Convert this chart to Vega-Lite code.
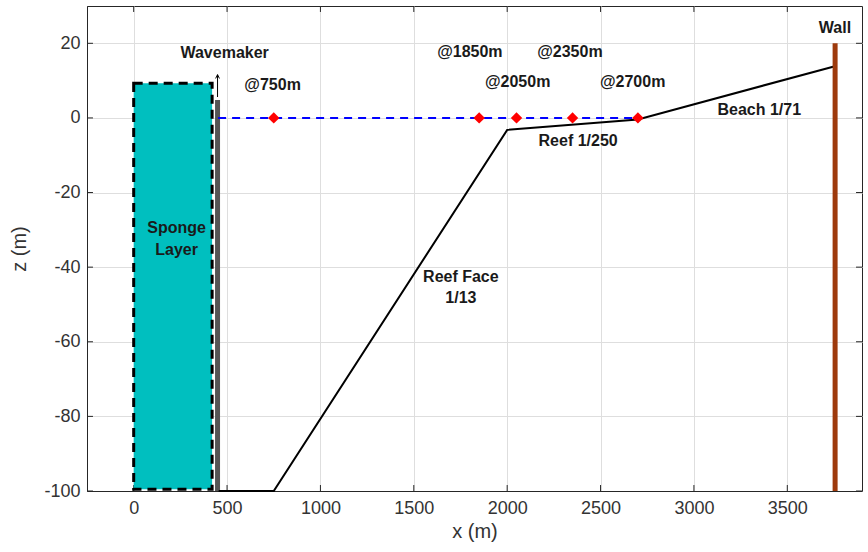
{
  "$schema": "https://vega.github.io/schema/vega-lite/v6.json",
  "width": 775,
  "height": 485,
  "autosize": {"type": "none"},
  "padding": {"left": 87, "top": 6, "right": 6, "bottom": 61},
  "config": {
    "view": {"stroke": "#262626", "strokeWidth": 1},
    "font": "Liberation Sans",
    "axis": {
      "labelFont": "Liberation Sans",
      "titleFont": "Liberation Sans",
      "labelColor": "#333333",
      "titleColor": "#333333",
      "labelFontSize": 18,
      "titleFontSize": 20,
      "titleFontWeight": "normal",
      "domainColor": "#262626",
      "tickColor": "#262626",
      "gridColor": "#dedede",
      "gridWidth": 1
    }
  },
  "datasets": {
    "xticks": [{"x": 0}, {"x": 500}, {"x": 1000}, {"x": 1500}, {"x": 2000}, {"x": 2500}, {"x": 3000}, {"x": 3500}],
    "zticks": [{"z": -100}, {"z": -80}, {"z": -60}, {"z": -40}, {"z": -20}, {"z": 0}, {"z": 20}]
  },
  "layer": [
    {
      "data": {"values": [{"x": 0, "z": 0}]},
      "mark": {"type": "point", "opacity": 0},
      "encoding": {
        "x": {"field": "x", "type": "quantitative", "scale": {"domain": [-250, 3900], "nice": false, "zero": false},
          "axis": {"orient": "bottom", "values": [0, 500, 1000, 1500, 2000, 2500, 3000, 3500], "labelExpr": "datum.value + ''", "title": "x (m)", "ticks": false, "labelPadding": 8, "titlePadding": 4, "grid": true, "labelFlush": false}},
        "y": {"field": "z", "type": "quantitative", "scale": {"domain": [-100, 30], "nice": false, "zero": false},
          "axis": {"orient": "left", "values": [-100, -80, -60, -40, -20, 0, 20], "labelExpr": "datum.value + ''", "title": "z (m)", "ticks": false, "labelPadding": 7, "titlePadding": 14, "grid": true, "labelFlush": false}}
      }
    },
    {
      "data": {"name": "xticks"},
      "mark": {"type": "rule", "color": "#262626", "strokeWidth": 1},
      "encoding": {
        "x": {"field": "x", "type": "quantitative"},
        "y": {"datum": -100, "type": "quantitative"},
        "y2": {"datum": -98.4}
      }
    },
    {
      "data": {"name": "xticks"},
      "mark": {"type": "rule", "color": "#262626", "strokeWidth": 1},
      "encoding": {
        "x": {"field": "x", "type": "quantitative"},
        "y": {"datum": 30, "type": "quantitative"},
        "y2": {"datum": 28.4}
      }
    },
    {
      "data": {"name": "zticks"},
      "mark": {"type": "rule", "color": "#262626", "strokeWidth": 1},
      "encoding": {
        "y": {"field": "z", "type": "quantitative"},
        "x": {"datum": -250, "type": "quantitative"},
        "x2": {"datum": -218}
      }
    },
    {
      "data": {"name": "zticks"},
      "mark": {"type": "rule", "color": "#262626", "strokeWidth": 1},
      "encoding": {
        "y": {"field": "z", "type": "quantitative"},
        "x": {"datum": 3900, "type": "quantitative"},
        "x2": {"datum": 3868}
      }
    },
    {
      "data": {"values": [{"x1": 0, "x2": 420, "z1": -99.5, "z2": 9.3}]},
      "mark": {"type": "rect", "fill": "#00BFBF", "stroke": "#000000", "strokeWidth": 3, "strokeDash": [9, 6]},
      "encoding": {
        "x": {"field": "x1", "type": "quantitative"},
        "x2": {"field": "x2"},
        "y": {"field": "z1", "type": "quantitative"},
        "y2": {"field": "z2"}
      }
    },
    {
      "data": {"values": [{"x": 449, "z1": -100, "z2": 4.8}]},
      "mark": {"type": "rule", "color": "#555555", "strokeWidth": 5},
      "encoding": {
        "x": {"field": "x", "type": "quantitative"},
        "y": {"field": "z1", "type": "quantitative"},
        "y2": {"field": "z2"}
      }
    },
    {
      "data": {"values": [{"x": 449, "z1": 5.6, "z2": 11.6}]},
      "mark": {"type": "rule", "color": "#000000", "strokeWidth": 1},
      "encoding": {
        "x": {"field": "x", "type": "quantitative"},
        "y": {"field": "z1", "type": "quantitative"},
        "y2": {"field": "z2"}
      }
    },
    {
      "data": {"values": [{"x": 449, "z": 11.6}]},
      "mark": {"type": "point", "shape": "M-0.6,1.2L0,0L0.6,1.2", "filled": false, "stroke": "#000000", "strokeWidth": 1, "size": 40, "opacity": 1},
      "encoding": {
        "x": {"field": "x", "type": "quantitative"},
        "y": {"field": "z", "type": "quantitative"}
      }
    },
    {
      "data": {"values": [{"x": 452, "z": 0}, {"x": 2700, "z": 0}]},
      "mark": {"type": "line", "color": "#0000FF", "strokeWidth": 2, "strokeDash": [8, 6]},
      "encoding": {
        "x": {"field": "x", "type": "quantitative"},
        "y": {"field": "z", "type": "quantitative"}
      }
    },
    {
      "data": {"values": [{"x": 455, "z": -100}, {"x": 750, "z": -100}, {"x": 2000, "z": -3.2}, {"x": 2700, "z": -0.4}, {"x": 3750, "z": 13.8}]},
      "mark": {"type": "line", "color": "#000000", "strokeWidth": 2},
      "encoding": {
        "x": {"field": "x", "type": "quantitative"},
        "y": {"field": "z", "type": "quantitative"}
      }
    },
    {
      "data": {"values": [{"x": 3756, "z1": -100, "z2": 20}]},
      "mark": {"type": "rule", "color": "#9E3A0C", "strokeWidth": 5},
      "encoding": {
        "x": {"field": "x", "type": "quantitative"},
        "y": {"field": "z1", "type": "quantitative"},
        "y2": {"field": "z2"}
      }
    },
    {
      "data": {"values": [{"x": 750, "z": 0}, {"x": 1850, "z": 0}, {"x": 2050, "z": 0}, {"x": 2350, "z": 0}, {"x": 2700, "z": 0}]},
      "mark": {"type": "point", "shape": "diamond", "filled": true, "color": "#FF0000", "size": 130, "opacity": 1},
      "encoding": {
        "x": {"field": "x", "type": "quantitative"},
        "y": {"field": "z", "type": "quantitative"}
      }
    },
    {
      "data": {"values": [
        {"x": 487, "z": 17.4, "label": "Wavemaker"},
        {"x": 744, "z": 8.8, "label": "@750m"},
        {"x": 1800, "z": 17.6, "label": "@1850m"},
        {"x": 2056, "z": 9.6, "label": "@2050m"},
        {"x": 2336, "z": 17.6, "label": "@2350m"},
        {"x": 2672, "z": 9.6, "label": "@2700m"},
        {"x": 2380, "z": -6.1, "label": "Reef 1/250"},
        {"x": 3350, "z": 2.1, "label": "Beach 1/71"},
        {"x": 3755, "z": 24.2, "label": "Wall"},
        {"x": 230, "z": -29.5, "label": "Sponge"},
        {"x": 230, "z": -35.4, "label": "Layer"},
        {"x": 1752, "z": -42.6, "label": "Reef Face"},
        {"x": 1752, "z": -48.2, "label": "1/13"}
      ]},
      "mark": {"type": "text", "font": "Liberation Sans", "fontWeight": "bold", "fontSize": 16, "color": "#1a1a1a", "align": "center", "baseline": "middle"},
      "encoding": {
        "x": {"field": "x", "type": "quantitative"},
        "y": {"field": "z", "type": "quantitative"},
        "text": {"field": "label"}
      }
    }
  ]
}
